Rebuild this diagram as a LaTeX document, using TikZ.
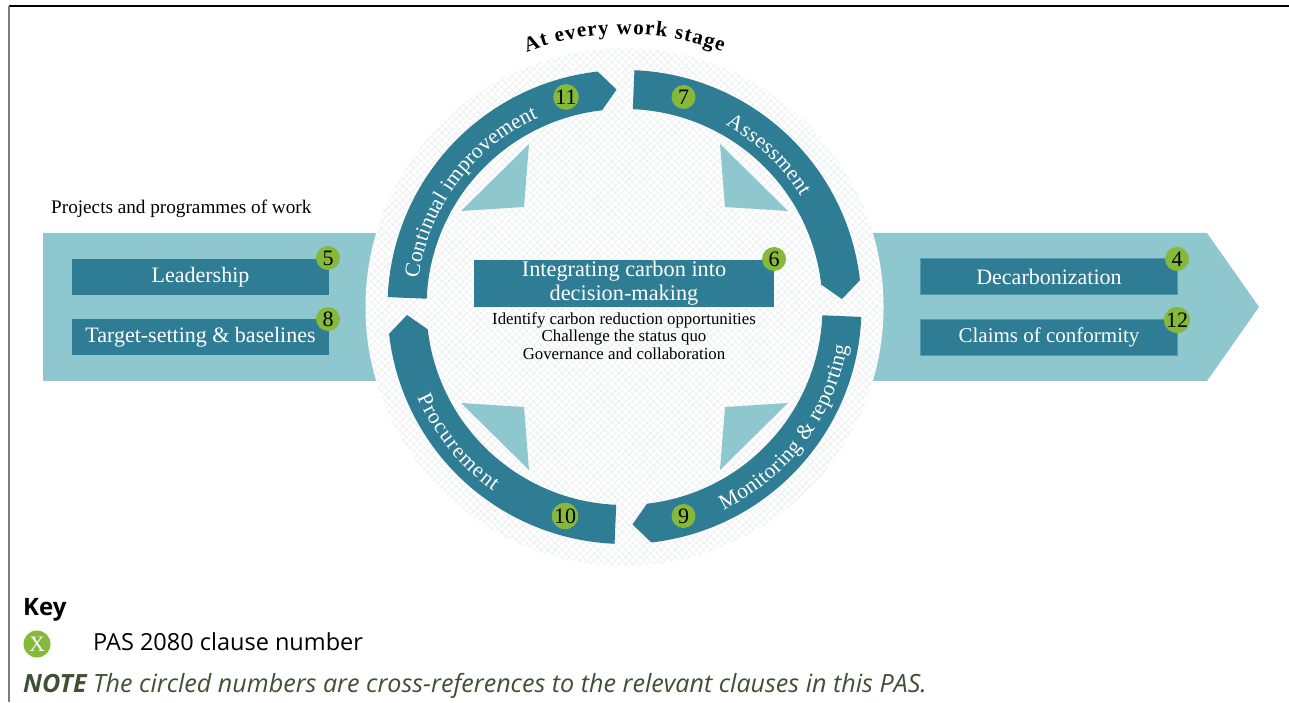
\documentclass[tikz,border=0pt]{standalone}
\usepackage{fontspec}
\setmainfont{Liberation Serif}
\newfontfamily\keyfont{Open Sans}
\usetikzlibrary{patterns.meta}
\usetikzlibrary{decorations.text}
\definecolor{tealdark}{HTML}{2E7D94}
\definecolor{teallight}{HTML}{8FC7CF}
\definecolor{clausegreen}{HTML}{86B83A}
\definecolor{notegreen}{HTML}{3F5033}
\definecolor{hatchgrey}{HTML}{E8ECEC}
\definecolor{framegrey}{HTML}{7A8070}
\newcommand{\arcfont}{\fontsize{21.5}{24}\selectfont\color{white}}
\newcommand{\topfont}{\fontsize{21}{24}\selectfont\bfseries}
\tikzset{
  barbox/.style={fill=tealdark, text=white, inner sep=0pt, minimum width=257pt, minimum height=36pt, font=\fontsize{22}{24}\selectfont},
  clause/.style={circle, fill=clausegreen, inner sep=0pt, minimum size=24pt, font=\fontsize{22}{22}\selectfont},
  arctext/.style={postaction={decorate}, decoration={text along path, text align=fit to path, text={#1}}}
}
\begin{document}
\begin{tikzpicture}[x=1pt, y=1pt]
  \useasboundingbox (0,0) rectangle (1289,702);

  \draw[line width=1.2pt, black] (9,696) -- (1289,696);
  \draw[line width=1.2pt, framegrey] (9,696) -- (9,0);

  \fill[teallight] (43,469) -- (420,469) -- (420,321) -- (43,321) -- cycle;
  \fill[teallight] (830,469) -- (1207,469) -- (1259,395) -- (1207,321) -- (830,321) -- cycle;

  \begin{scope}[shift={(624.5,395)}]
    \fill[white] (0,0) circle (259pt);
    \fill[pattern={Lines[angle=45, distance=5pt, line width=.5pt]}, pattern color=hatchgrey] (0,0) circle (259pt);
    \fill[pattern={Lines[angle=-45, distance=5pt, line width=.5pt]}, pattern color=hatchgrey] (0,0) circle (259pt);

    \fill[tealdark] (87.6:237pt) arc[start angle=87.6, end angle=6.5, radius=237pt] -- (2.1:217.6pt) -- (6.5:198pt) arc[start angle=6.5, end angle=87.6, radius=198pt] -- cycle;
    \fill[tealdark] (177.6:237pt) arc[start angle=177.6, end angle=96.5, radius=237pt] -- (92.1:217.6pt) -- (96.5:198pt) arc[start angle=96.5, end angle=177.6, radius=198pt] -- cycle;
    \fill[tealdark] (-2.4:237pt) arc[start angle=-2.4, end angle=-83.5, radius=237pt] -- (-87.9:217.6pt) -- (-83.5:198pt) arc[start angle=-83.5, end angle=-2.4, radius=198pt] -- cycle;
    \fill[tealdark] (267.6:237pt) arc[start angle=267.6, end angle=186.5, radius=237pt] -- (182.1:217.6pt) -- (186.5:198pt) arc[start angle=186.5, end angle=267.6, radius=198pt] -- cycle;

    \fill[teallight] (95.5,163) -- (163.5,96) -- (100.5,100) -- cycle;
    \fill[teallight] (-95.5,163) -- (-163.5,96) -- (-100.5,100) -- cycle;
    \fill[teallight] (95.5,-163) -- (163.5,-96) -- (100.5,-100) -- cycle;
    \fill[teallight] (-95.5,-163) -- (-163.5,-96) -- (-100.5,-100) -- cycle;

    \path[arctext={|\arcfont|Continual improvement}] (172:208pt) arc[start angle=172, end angle=114.5, radius=208pt];
    \path[arctext={|\arcfont|Assessment}] (61:208pt) arc[start angle=61, end angle=32, radius=208pt];
    \path[arctext={|\arcfont|Monitoring {\&} reporting}] (-64:226pt) arc[start angle=-64, end angle=-10, radius=226pt];
    \path[arctext={|\arcfont|Procurement}] (203.5:226pt) arc[start angle=203.5, end angle=234.5, radius=226pt];
    \path[arctext={|\topfont|At every work stage}] (111:273pt) arc[start angle=111, end angle=69, radius=273pt];
  \end{scope}

  \node[barbox] (leadership) at (200.5,425) {Leadership};
  \node[barbox] (target) at (200.5,365) {Target-setting \& baselines};
  \node[barbox, draw=teallight!40!tealdark, line width=.5pt] (decarb) at (1049,425.5) {Decarbonization};
  \node[barbox, draw=teallight!40!tealdark, line width=.5pt, font=\fontsize{21}{24}\selectfont] (claims) at (1049,364.5) {Claims of conformity};
  \node[barbox, minimum width=300pt, minimum height=47pt, align=center, font=\fontsize{22.3}{24}\selectfont] (integrating) at (624,418.5) {Integrating carbon into\\decision-making};

  \node[clause] (c5) at (328,444) {5};
  \node[clause] (c8) at (328,383) {8};
  \node[clause] (c4) at (1177,443) {4};
  \node[clause] (c12) at (1177,382) {12};
  \node[clause] (c6) at (774,443) {6};
  \node[clause] (c7) at (683.5,605) {7};
  \node[clause] (c11) at (566,605) {11};
  \node[clause] (c9) at (683.5,186) {9};
  \node[clause] (c10) at (565,186) {10};

  \node[anchor=west, inner sep=0pt, font=\fontsize{19.2}{20}\selectfont] (projects) at (51,493.5) {Projects and programmes of work};
  \node[align=center, inner sep=0pt, font=\fontsize{16.8}{17.5}\selectfont] (actions) at (624,366) {Identify carbon reduction opportunities\\Challenge the status quo\\Governance and collaboration};

  \node[anchor=west, inner sep=0pt, font=\keyfont\bfseries\fontsize{24}{26}\selectfont] (key) at (23,92) {Key};
  \node[clause, minimum size=27pt, text=white] (keyclause) at (37,58) {X};
  \node[anchor=west, inner sep=0pt, font=\keyfont\fontsize{23.5}{26}\selectfont] (keytext) at (93,60) {PAS 2080 clause number};
  \node[anchor=west, inner sep=0pt, text=notegreen, font=\keyfont\itshape\fontsize{25.1}{26}\selectfont] (note) at (23,16) {\textbf{NOTE} The circled numbers are cross-references to the relevant clauses in this PAS.};
\end{tikzpicture}
\end{document}
